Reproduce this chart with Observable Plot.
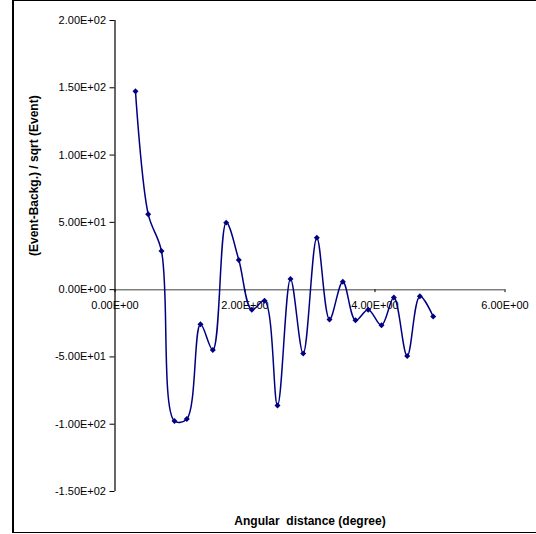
<!DOCTYPE html>
<html><head><meta charset="utf-8">
<script src="https://cdn.jsdelivr.net/npm/d3@7"></script>
<script src="https://cdn.jsdelivr.net/npm/@observablehq/plot@0.6"></script>
<style>
html,body{margin:0;padding:0;overflow:hidden;background:#fff;width:536px;height:534px}
#frame{position:absolute;left:12px;top:0;width:600px;height:531px;border:1px solid #000;border-left:2px solid #000;}
#chart{position:absolute;left:0;top:0}
</style></head><body>
<div id="frame"></div><div id="chart"></div>
<script>
// Data
const angle  = [0.315, 0.511, 0.715, 0.915, 1.105, 1.315, 1.505, 1.711, 1.905, 2.105, 2.30, 2.50,
                2.70, 2.895, 3.105, 3.30, 3.505, 3.70, 3.895, 4.10, 4.29, 4.495, 4.69, 4.895];
const signif = [147.5, 56.1, 28.7, -97.6, -96.1, -25.8, -44.9, 49.8, 22.0, -14.9, -8.2, -86.1,
                8.0, -47.5, 38.6, -22.1, 5.9, -22.8, -14.9, -26.5, -5.9, -49.3, -5.0, -20.0];
const xTicks = [0, 2, 4, 6];
const yTicks = [-150, -100, -50, 0, 50, 100, 150, 200];
const xTitle = "Angular \u00a0distance (degree)";
const yTitle = "(Event-Backg.) / sqrt (Event)";

const fmt = d => {
  const [m, e] = d.toExponential(2).split("e");
  const s = e[0] === "-" ? "-" : "+";
  const n = e.replace(/^[+-]/, "");
  return m + "E" + s + n.padStart(2, "0");
};

const W = 536, H = 534, mt = 20, mb = 43, ml = 114.5, mr = 31.5;
const xDomain = [0, 6], yDomain = [-150, 200];
const yPix = d3.scaleLinear(yDomain, [H - mb, mt]);
const data = angle.map((x, i) => ({x, y: signif[i]}));

const plot = Plot.plot({
  width: W, height: H, marginTop: mt, marginBottom: mb, marginLeft: ml, marginRight: mr,
  x: {domain: xDomain}, y: {domain: yDomain},
  style: {fontFamily: "'Liberation Sans', Arial, sans-serif", fontSize: "11px", color: "#000", background: "transparent", overflow: "visible"},
  marks: [
    Plot.ruleY([0], {stroke: "#808080", strokeWidth: 1.5}),
    Plot.ruleX([0], {stroke: "#000", strokeWidth: 1.2}),
    Plot.axisY({ticks: yTicks, tickFormat: fmt, tickSize: 5, tickPadding: 4, label: null, stroke: "#000"}),
    Plot.axisX({ticks: xTicks, tickFormat: fmt, tickSize: 3, tickPadding: 9, label: null, stroke: "#000",
                dy: yPix(0) - yPix(-150)}),
    Plot.text([xTitle], {text: d => d, frameAnchor: "bottom", dy: 33, fontWeight: "bold", fontSize: 12}),
    Plot.text([yTitle], {text: d => d, frameAnchor: "left", dx: -81, rotate: -90, fontWeight: "bold", fontSize: 12}),
    Plot.line(data, {x: "x", y: "y", curve: "catmull-rom", stroke: "#000080", strokeWidth: 1.5}),
    Plot.dot(data, {x: "x", y: "y", symbol: "diamond2", r: 2.7, fill: "#000080"})
  ]
});
document.getElementById("chart").appendChild(plot);
</script>
</body></html>
